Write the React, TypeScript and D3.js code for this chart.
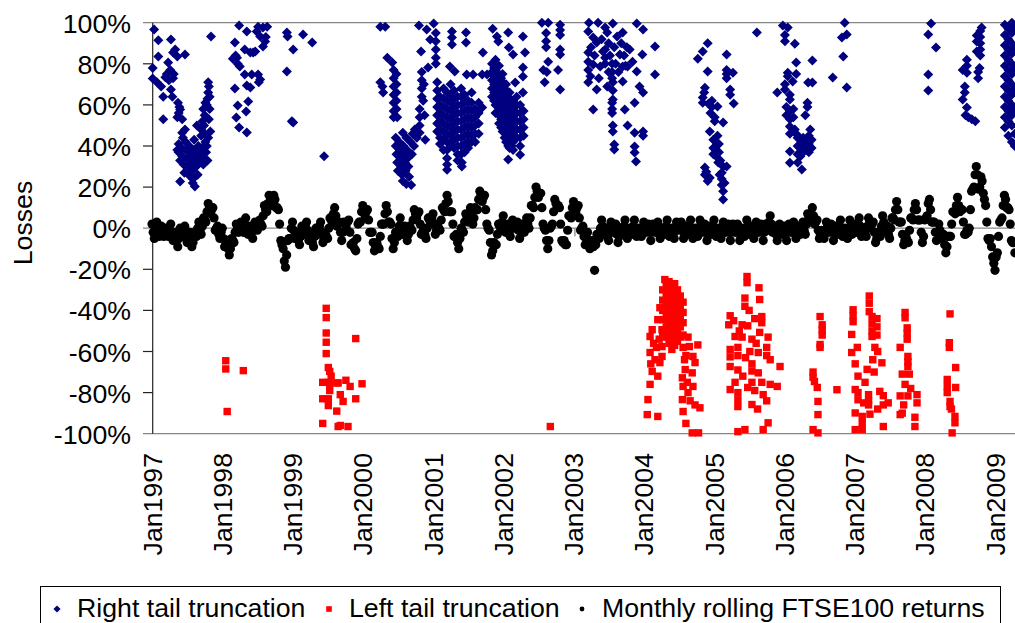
import React from "react";
import * as d3 from "d3";

const W = 1015;
const H = 623;
const FONT = "'Liberation Sans', Arial, Helvetica, sans-serif";

// Axis ticks
const yTickValues = [100, 80, 60, 40, 20, 0, -20, -40, -60, -80, -100];
const yearTicks = [1997, 1998, 1999, 2000, 2001, 2002, 2003, 2004, 2005, 2006, 2007, 2008, 2009];
const zeroLineTickDates = [1999.86, 2003.02, 2006.18];

// Monthly rolling FTSE100 returns (shown as losses, %), 60 samples per year from January
const FTSE_STEPS_PER_YEAR = 60;
const ftse1997 = [2, -2, -5, -1, 3, 0, -4, -2, 1, -1, -4, -2, 0, -2, -4, -1, 2, -2, -6, -4, -2, -6, -9, -5, 0, -2, -4, -1, 1, -3, -7, -4, -2, -6, -9, -7, -2, -3, -4, 0, 3, -1, -3, 1, 5, 4, 3, 8, 12, 10, 7, 9, 10, 5, -1, 0, 1, -3, -5, -2];
const ftse1998 = [0, -5, -9, -8, -6, -10, -13, -10, -5, -6, -7, -2, 2, 0, -2, 1, 3, 0, -2, 2, 5, 1, -3, -1, 1, -2, -5, -1, 3, 1, -1, 2, 4, 2, 1, 6, 11, 9, 8, 12, 16, 13, 11, 14, 16, 14, 10, 10, 9, 2, -6, -8, -10, -16, -19, -13, -6, -5, -5, 0];
const ftse1999 = [3, -1, -5, -4, -2, -6, -8, -4, 1, -1, -3, 1, 3, -1, -6, -5, -3, -7, -9, -4, 0, -1, -3, 1, 3, -2, -7, -5, -3, -4, -5, 0, 5, 4, 3, 7, 10, 6, 1, 2, 3, -2, -6, -2, 3, 2, 0, 3, 4, -2, -8, -8, -7, -10, -11, -5, 2, 3, 3, 8];
const ftse2000 = [11, 9, 6, 8, 9, 4, -2, -2, -2, -7, -11, -9, -7, -9, -10, -4, 2, 2, 2, 7, 11, 8, 3, 3, 2, -5, -10, -7, -2, -3, -4, 1, 5, 1, -3, -1, 1, -3, -6, -3, 1, 0, -1, 4, 9, 7, 5, 7, 8, 2, -3, -2, 0, -3, -5, 0, 5, 4, 2, 5];
const ftse2001 = [7, 2, -3, -1, 2, 0, -1, 4, 10, 9, 8, 12, 16, 13, 8, 8, 8, 2, -4, -4, -3, -7, -10, -5, 0, -1, -2, 3, 7, 5, 3, 7, 10, 6, 2, 5, 10, 9, 9, 14, 18, 16, 13, 15, 16, 9, 2, 0, -1, -7, -13, -11, -7, -8, -8, -3, 2, 1, -1, 3];
const ftse2002 = [6, 2, -2, 0, 2, -2, -4, 0, 4, 2, 0, 2, 3, -1, -5, -2, 2, 0, -2, 2, 5, 2, 0, 5, 11, 11, 10, 15, 20, 18, 15, 17, 17, 10, 2, 0, -1, -6, -10, -6, 0, 1, 2, 8, 14, 12, 10, 11, 10, 2, -6, -7, -6, -8, -8, -1, 6, 6, 5, 10];
const ftse2003 = [13, 11, 8, 10, 11, 5, -1, 0, 1, -4, -8, -5, -2, -6, -10, -8, -6, -9, -20.5, -8, -3, -4, -5, 0, 4, 1, -3, -1, 0, -4, -6, -2, 3, 1, -2, 0, 2, -3, -7, -4, 0, -1, -3, 1, 4, -1, -5, -3, 0, -2, -3, 1, 4, 0, -4, -2, 0, -3, -4, 0];
const ftse2004 = [3, 1, -2, 0, 2, -2, -6, -2, 2, 0, -2, 1, 3, -1, -5, -3, 0, -2, -3, 1, 4, 0, -4, -2, 0, -3, -5, -1, 3, 1, -1, 1, 3, -1, -5, -3, 1, -1, -3, 1, 4, 0, -5, -3, 0, -2, -4, 0, 4, 2, -2, 0, 2, -2, -6, -3, 1, -1, -3, 1];
const ftse2005 = [4, 0, -4, -2, 0, -3, -5, -1, 3, 1, -2, 0, 2, -2, -6, -2, 2, 0, -2, 0, 2, -2, -6, -4, 0, -2, -4, 0, 4, 1, -3, -1, 1, -3, -5, -1, 3, 1, -2, 0, 2, -2, -6, -2, 2, 1, -1, 3, 6, 2, -2, -1, 1, -3, -6, -2, 2, 0, -3, -1];
const ftse2006 = [1, -3, -6, -2, 2, 0, -2, 1, 3, -1, -5, -3, 1, -1, -3, 1, 3, -1, -3, 2, 7, 5, 3, 7, 10, 6, 2, 3, 4, -1, -5, -3, -1, -3, -5, -1, 3, 1, -2, 0, 2, -2, -6, -3, 1, -1, -3, 1, 4, 0, -4, -2, 0, -3, -5, -1, 4, 1, -3, -2];
const ftse2007 = [2, 0, -2, 2, 5, 1, -4, -3, -1, -3, -4, 1, 5, 3, 0, 2, 3, -2, -7, -5, -2, -3, -4, 1, 6, 3, -1, 0, 1, -3, -5, 0, 5, 5, 4, 9, 13, 9, 3, 3, 3, -3, -8, -6, -4, -6, -7, -1, 5, 5, 4, 9, 12, 9, 4, 4, 4, -2, -7, -4];
const ftse2008 = [4, 5, 6, 12, 14, 9, 3, 3, 3, -2, -6, -2, 2, -1, -5, -4, -3, -8, -12, -9, -4, -4, -4, 2, 8, 8, 7, 11, 15, 11, 8, 9, 9, 3, -3, -3, -1, -2, 0, 9, 18, 19, 20, 26, 30, 26, 19, 20, 25, 23, 17, 14, 11, 3, -5, -6, -5, -9, -14, -17];
const ftse2009 = [-20.5, -14, -12, -4, 3, 4, 5, 11, 16, 14, 10, 10, 9, 2, -6, -7, -7, -12];
const ftseByYear = [ftse1997, ftse1998, ftse1999, ftse2000, ftse2001, ftse2002, ftse2003, ftse2004, ftse2005, ftse2006, ftse2007, ftse2008, ftse2009];

// Right tail truncation losses (%): each row is [date, value, value, ...]
const rightTailRows: number[][] = [
  [1997.01, 78, 72.8], [1997.03, 96.7], [1997.07, 71], [1997.09, 91.5, 83.5], [1997.13, 69], [1997.16, 64, 53],
  [1997.19, 73.5], [1997.21, 75], [1997.23, 80.6], [1997.24, 72], [1997.26, 77], [1997.27, 91.8, 67.5], [1997.29, 64],
  [1997.3, 85.5, 73], [1997.31, 75], [1997.33, 87], [1997.36, 83.5, 54, 38], [1997.37, 61], [1997.38, 56, 41, 37],
  [1997.39, 59], [1997.4, 57.8, 33, 22.7], [1997.42, 39], [1997.43, 53, 46.5, 35], [1997.44, 44], [1997.45, 31],
  [1997.46, 27], [1997.47, 84.5, 48], [1997.48, 42, 38], [1997.5, 34], [1997.51, 30], [1997.52, 26], [1997.53, 40],
  [1997.55, 36], [1997.56, 32], [1997.57, 28], [1997.58, 24, 22], [1997.6, 43, 38], [1997.61, 20.3], [1997.62, 34],
  [1997.63, 30], [1997.64, 50], [1997.65, 26], [1997.66, 40], [1997.67, 36], [1997.68, 32], [1997.7, 48, 45],
  [1997.71, 39], [1997.72, 52, 35], [1997.73, 58, 31], [1997.74, 50], [1997.75, 55, 46], [1997.76, 61, 42],
  [1997.77, 37], [1997.78, 60, 40], [1997.79, 63, 33], [1997.8, 71, 66, 44], [1997.81, 69, 53], [1997.82, 64, 58],
  [1997.83, 47], [1997.84, 93.3],
  [1998.15, 82.5], [1998.18, 90.4, 68], [1998.19, 84], [1998.2, 53.9], [1998.21, 83], [1998.22, 80, 59.7],
  [1998.24, 98.6, 49], [1998.25, 78.7], [1998.32, 87, 74.8], [1998.34, 56.8], [1998.35, 95.7, 69.4, 46.6],
  [1998.37, 61.7], [1998.4, 85.5, 68.5], [1998.42, 74.8], [1998.44, 85.5], [1998.47, 86], [1998.49, 95.7],
  [1998.51, 98, 74.8], [1998.52, 71], [1998.54, 93.3, 72.4], [1998.58, 97.7, 88.4], [1998.61, 90.9], [1998.62, 93],
  [1998.64, 98], [1998.92, 95.2, 76.3], [1998.93, 93.3], [1998.99, 52], [1999.01, 87, 51.4], [1999.15, 94.2],
  [1999.28, 90.4], [1999.45, 35],
  [2000.25, 98, 71], [2000.28, 69], [2000.29, 66], [2000.32, 98], [2000.35, 83], [2000.42, 80.6],
  [2000.44, 77, 73, 69, 65, 61, 57, 54], [2000.47, 44, 40], [2000.48, 75, 70, 66, 62, 58, 36], [2000.49, 54, 32],
  [2000.5, 28], [2000.52, 42], [2000.53, 38], [2000.54, 34], [2000.55, 30], [2000.56, 26], [2000.57, 46.5, 23],
  [2000.58, 40], [2000.59, 36], [2000.6, 32], [2000.61, 28], [2000.62, 44, 21.5], [2000.63, 38], [2000.64, 34],
  [2000.65, 30], [2000.66, 25], [2000.68, 42], [2000.69, 21], [2000.7, 36], [2000.71, 46], [2000.73, 40],
  [2000.74, 48], [2000.77, 44], [2000.8, 98.6], [2000.81, 58, 54, 50, 46.5], [2000.83, 86], [2000.84, 76, 72, 68, 64],
  [2000.86, 62], [2000.87, 70], [2000.88, 55], [2000.89, 43], [2000.91, 96.7], [2000.93, 78.2], [2000.96, 91.8],
  [2001.01, 99.6], [2001.04, 95, 91, 87, 83, 80], [2001.06, 71, 67, 63, 59, 55, 51, 47],
  [2001.1, 64, 60, 56, 52, 48, 44, 41], [2001.15, 68, 63, 59, 55, 51, 47, 43, 38],
  [2001.2, 66, 62, 58, 54, 50, 46, 42, 38, 34, 31, 28.5], [2001.24, 78.7], [2001.25, 70, 65, 61, 57, 53, 49, 45, 41],
  [2001.27, 95.7, 92.8, 89.4], [2001.3, 67, 63, 59, 55, 51, 47, 43, 39], [2001.31, 76.3],
  [2001.35, 64, 60, 56, 52, 48, 44, 40, 36, 33], [2001.4, 68, 64, 60, 56, 52, 48, 44, 40, 36], [2001.41, 32, 30],
  [2001.45, 65, 61, 57, 53, 49, 45, 41, 37], [2001.47, 95.2, 90.4], [2001.48, 74.8], [2001.5, 62, 58, 54, 50, 46, 42, 39],
  [2001.55, 66, 61, 57, 53, 49, 45, 42], [2001.57, 74.8], [2001.6, 58, 54, 50, 46, 42], [2001.65, 61, 56, 51, 46],
  [2001.7, 74.8, 58.7], [2001.71, 85.5], [2001.77, 74.8], [2001.84, 80, 76, 72, 68, 64], [2001.85, 97],
  [2001.87, 78, 74, 70, 66, 62], [2001.89, 82, 77, 73, 69, 65, 60, 56], [2001.91, 93.3], [2001.93, 90.9],
  [2001.94, 79, 75, 71, 67, 63, 59, 55, 51], [2001.97, 73, 69, 65, 61, 57, 53, 49],
  [2001.99, 75, 71, 67, 63, 59, 55, 51, 47], [2002.02, 68, 64, 60, 56, 52, 48, 44],
  [2002.04, 70, 66, 62, 58, 54, 50, 46, 42], [2002.07, 95.2, 64, 60, 56, 52, 48, 44, 40, 33.4], [2002.08, 87.9],
  [2002.09, 66, 62, 58, 54, 50, 46, 42, 39], [2002.12, 60, 56, 52, 48, 44, 40], [2002.14, 84.5, 62, 58, 54, 50, 46, 42, 38],
  [2002.17, 70.9], [2002.19, 64, 60, 56, 52, 48, 44], [2002.24, 60, 56, 52, 48, 44, 40, 35.8],
  [2002.28, 93.3, 78.2, 73.8, 66], [2002.29, 57, 53, 49, 45], [2002.31, 85.5],
  [2002.55, 100], [2002.57, 77], [2002.59, 71], [2002.61, 95, 91, 88], [2002.62, 76], [2002.64, 100, 81],
  [2002.78, 77], [2002.81, 99, 96.5, 94, 87, 84.5, 67.5],
  [2003.21, 95.7, 85.5, 81, 77, 71], [2003.22, 100], [2003.24, 74], [2003.25, 88], [2003.28, 92.8, 79.6, 57.8],
  [2003.3, 84], [2003.33, 90.4, 67.5], [2003.35, 100], [2003.36, 73], [2003.38, 78.7], [2003.4, 92], [2003.42, 86],
  [2003.45, 97.7, 87, 83, 80], [2003.48, 95.2, 68.9], [2003.5, 90, 76], [2003.52, 84], [2003.55, 80, 76, 73, 61, 58, 56],
  [2003.56, 99.6, 71, 67, 62.6, 50, 47], [2003.58, 88, 40.7, 38.3], [2003.6, 80], [2003.62, 93.3], [2003.64, 76],
  [2003.66, 84.5], [2003.68, 90], [2003.7, 95.2, 78.7, 71.4], [2003.72, 84], [2003.73, 57.8], [2003.74, 79],
  [2003.76, 88], [2003.77, 78.7, 50], [2003.8, 87], [2003.84, 81], [2003.87, 61, 46.5, 39.8, 36.8], [2003.89, 32.5],
  [2003.9, 99.6, 76.3], [2003.94, 69], [2003.98, 84.5], [2003.99, 96.7, 66, 47, 45], [2004.16, 88.4, 74.8],
  [2004.77, 82.5], [2004.84, 86, 63.6, 61], [2004.86, 66], [2004.87, 68.4, 29.5, 26], [2004.89, 27.5],
  [2004.91, 90, 76.3, 23], [2004.92, 60.5], [2004.94, 47, 24.5], [2004.95, 56], [2004.97, 62, 59],
  [2004.99, 43, 39, 36], [2005.01, 54, 52], [2005.03, 42, 38, 35], [2005.05, 59.2, 45], [2005.06, 32],
  [2005.07, 41, 37], [2005.08, 26], [2005.09, 33], [2005.11, 27, 24, 21], [2005.13, 51.4, 30, 18, 14], [2005.15, 22],
  [2005.18, 84.5, 77, 75, 73, 30], [2005.23, 67.5, 65], [2005.27, 75.7], [2005.28, 60.7], [2005.61, 95.2],
  [2005.9, 66], [2005.98, 98.6], [2006.01, 94, 91, 70, 67.5], [2006.03, 59, 55], [2006.05, 97.7, 75.7, 74],
  [2006.08, 65, 62.6, 57, 53, 49.5, 46, 37.3, 31.9], [2006.12, 71.4], [2006.13, 58, 54], [2006.15, 89.8, 48],
  [2006.17, 80.6, 75], [2006.18, 45.6], [2006.19, 44, 40, 36, 32], [2006.23, 43, 39, 35], [2006.25, 28.6],
  [2006.27, 44, 40, 37], [2006.3, 55], [2006.31, 42, 38], [2006.33, 61, 59], [2006.34, 70.9], [2006.35, 45, 41, 37],
  [2006.37, 48], [2006.39, 43, 39], [2006.4, 81.6, 70.9],
  [2006.69, 73.3], [2006.82, 92.8], [2006.84, 83.5], [2006.86, 100], [2006.89, 94.2, 68.5],
  [2008.05, 94.2, 74.8, 67], [2008.09, 99.6], [2008.16, 87.9],
  [2008.54, 77, 62.6], [2008.57, 69, 66], [2008.58, 55], [2008.6, 82, 79, 75.7, 58.7], [2008.62, 54], [2008.67, 53],
  [2008.72, 52], [2008.74, 93.8, 90.9, 86], [2008.76, 76, 73], [2008.78, 78], [2008.79, 96, 93, 90, 87, 84],
  [2008.81, 97.7],
  [2009.14, 99, 94, 89, 84, 79, 74, 69, 64, 59, 54, 49], [2009.19, 97, 92, 87, 82, 77, 72, 67, 62, 57, 52, 45],
  [2009.24, 100, 95, 90, 85, 80, 75, 70, 65, 60, 55, 50, 42], [2009.28, 98, 88, 78, 68, 58, 46, 40],
];

// Left tail truncation losses (%): each row is [date, value, value, ...]
const leftTailRows: number[][] = [
  [1998.05, -64.5, -68.5], [1998.07, -89.2], [1998.3, -69.3],
  [1999.43, -75, -83, -95], [1999.48, -39, -43.5, -51, -55.5, -61], [1999.51, -67.8, -75, -83, -86.3],
  [1999.53, -69.7, -75.5, -79], [1999.55, -72], [1999.63, -75.3, -89], [1999.65, -75.3, -96.5], [1999.68, -81, -96],
  [1999.72, -84.3], [1999.76, -74], [1999.79, -96.5], [1999.82, -77], [1999.9, -53.7, -83], [1999.99, -75.7],
  [2002.67, -96.5],
  [2004.05, -90.7], [2004.06, -83.4], [2004.09, -52.7, -60.5, -76], [2004.1, -66], [2004.12, -49.4, -69.7],
  [2004.14, -56], [2004.16, -64], [2004.18, -58], [2004.2, -44.5, -72, -91.6], [2004.22, -54], [2004.23, -38.7, -65.4],
  [2004.26, -49.4, -57.6, -62.4], [2004.27, -30, -35, -40, -44.5, -51], [2004.3, -25],
  [2004.32, -28, -33, -38, -43, -48, -53], [2004.36, -26, -31, -36, -41, -46, -51, -56],
  [2004.4, -29, -34, -39, -44, -49, -54, -59], [2004.44, -27, -32, -37, -42, -47, -52, -57],
  [2004.48, -30, -35, -40, -45, -50, -55], [2004.52, -33, -38, -43, -48, -53], [2004.55, -72.8, -83.4],
  [2004.56, -36, -41, -46, -52, -58, -77, -89.2], [2004.58, -64], [2004.59, -68.8], [2004.6, -62, -95],
  [2004.62, -75], [2004.63, -53, -80], [2004.65, -57.6], [2004.66, -84], [2004.69, -70.4, -99.6],
  [2004.7, -62.4, -77], [2004.73, -65.4, -86], [2004.77, -56.8], [2004.78, -99.6], [2004.8, -87.4],
  [2005.21, -47], [2005.23, -42.6, -59, -62.6, -67.3, -78.5], [2005.28, -45], [2005.3, -52.7, -75],
  [2005.34, -58, -62, -69, -80, -83.5, -86.8, -99], [2005.36, -50], [2005.4, -47, -53], [2005.41, -72],
  [2005.44, -34, -38, -98], [2005.45, -63], [2005.47, -23.5, -26.5], [2005.48, -47.5, -77.5], [2005.5, -40],
  [2005.51, -60], [2005.54, -54, -66, -69.5, -75, -85.8], [2005.58, -44, -79], [2005.6, -56], [2005.62, -88],
  [2005.63, -60.5, -70.4], [2005.64, -29], [2005.65, -34.7, -50.7], [2005.68, -43, -46, -75], [2005.7, -81, -98],
  [2005.75, -58, -62, -84], [2005.77, -53, -94.7], [2005.8, -64, -76], [2005.9, -77], [2005.94, -67.3],
  [2006.41, -70, -72.5, -98], [2006.43, -74.6], [2006.47, -77.5], [2006.48, -84.3, -90.7, -99.6],
  [2006.51, -43, -56.6, -58], [2006.54, -47, -49.5, -52], [2006.75, -78.6],
  [2006.96, -51.7, -60.5], [2006.98, -39.7, -42.5, -45.5], [2007.01, -66, -78.5, -89.9, -98], [2007.04, -58],
  [2007.05, -72, -80, -83.5], [2007.11, -91.6, -95, -98], [2007.13, -85], [2007.15, -75], [2007.18, -68.7],
  [2007.2, -81, -84, -86], [2007.21, -33, -36.5, -40.6], [2007.22, -90.5], [2007.25, -43, -46.5, -50, -52.7],
  [2007.26, -64], [2007.28, -70], [2007.29, -58], [2007.32, -44, -48, -52], [2007.33, -60, -88], [2007.36, -79.4],
  [2007.39, -65.5], [2007.41, -81.5, -86, -96.5], [2007.48, -85],
  [2007.65, -58, -81.6, -90.7], [2007.68, -71, -90], [2007.7, -86], [2007.72, -41, -43.6, -76],
  [2007.75, -48.5, -51, -54], [2007.76, -62.4, -65, -67.3, -81.6], [2007.78, -71], [2007.8, -78],
  [2007.86, -92, -96.5], [2007.89, -81, -85],
  [2008.32, -73.6, -77, -80], [2008.35, -55.7, -58], [2008.36, -41.7, -84.3, -86.8], [2008.38, -88],
  [2008.39, -99.6], [2008.43, -91.6, -94.7], [2008.44, -67.8, -77.5],
];

const legendItems = [
  { label: "Right tail truncation", marker: "diamond", color: "#000080", markerX: 57, textX: 77 },
  { label: "Left tail truncation", marker: "square", color: "#FF0000", markerX: 329, textX: 349 },
  { label: "Monthly rolling FTSE100 returns", marker: "circle", color: "#000000", markerX: 582, textX: 602 },
];

const expandRows = (rows: number[][]) =>
  rows.flatMap(([t, ...vals]) => vals.map((v) => [t, v] as [number, number]));

const rightTail = expandRows(rightTailRows);
const leftTail = expandRows(leftTailRows);
const ftsePoints: [number, number][] = ftseByYear.flatMap((vals, k) =>
  vals.map((v, i) => [1997 + k + i / FTSE_STEPS_PER_YEAR, v] as [number, number])
);

const x = d3.scaleLinear().domain([1997, 2009]).range([152, 995]);
const y = d3.scaleLinear().domain([-100, 100]).range([433.7, 22.7]);

const AXIS_X = 152.7;
const PLOT_RIGHT = 1030;
const FS = 26.7;

const diamondPath = (s: number) => `M0,${-s}L${s},0L0,${s}L${-s},0Z`;

export default function App() {
  const gridGray = "#868686";
  return (
    <svg
      width={W}
      height={H}
      viewBox={`0 0 ${W} ${H}`}
      style={{ position: "absolute", left: 0, top: 0, background: "#ffffff" }}
      fontFamily={FONT}
    >
      <rect x={0} y={0} width={W} height={H} fill="#ffffff" />

      {/* plot frame and zero axis */}
      <line x1={143} x2={PLOT_RIGHT} y1={y(100)} y2={y(100)} stroke={gridGray} strokeWidth={1.3} />
      <line x1={143} x2={PLOT_RIGHT} y1={y(-100)} y2={y(-100)} stroke={gridGray} strokeWidth={1.3} />
      <line x1={143} x2={PLOT_RIGHT} y1={y(0)} y2={y(0)} stroke={gridGray} strokeWidth={1.3} />
      {zeroLineTickDates.map((d) => (
        <line key={d} x1={x(d)} x2={x(d)} y1={y(0)} y2={y(0) + 8} stroke={gridGray} strokeWidth={1.3} />
      ))}

      {/* y axis */}
      <line x1={AXIS_X} x2={AXIS_X} y1={y(100)} y2={y(-100)} stroke="#222" strokeWidth={1.2} />
      {yTickValues.map((v) => (
        <g key={v}>
          {v !== 0 && v !== 100 && v !== -100 && (
            <line x1={143} x2={AXIS_X} y1={y(v)} y2={y(v)} stroke="#222" strokeWidth={1.2} />
          )}
          <text x={131} y={y(v) + 10} textAnchor="end" fontSize={FS} fill="#000">
            {`${v}%`}
          </text>
        </g>
      ))}
      <text transform="translate(22.4,223) rotate(-90)" textAnchor="middle" dy="0.35em" fontSize={FS} fill="#000">
        Losses
      </text>

      {/* x labels */}
      {yearTicks.map((yr) => (
        <text
          key={yr}
          transform={`translate(${x(yr)},453) rotate(-90)`}
          textAnchor="end"
          dy="0.36em"
          fontSize={FS}
          fill="#000"
        >
          {`Jan${yr}`}
        </text>
      ))}

      {/* series */}
      <g fill="#000080">
        {rightTail.map(([t, v], i) => (
          <path key={i} d={diamondPath(5)} transform={`translate(${x(t)},${y(v)})`} />
        ))}
      </g>
      <g fill="#FF0000">
        {leftTail.map(([t, v], i) => (
          <rect key={i} x={x(t) - 3.7} y={y(v) - 3.7} width={7.4} height={7.4} />
        ))}
      </g>
      <g fill="#000000">
        {ftsePoints.map(([t, v], i) => (
          <circle key={i} cx={x(t)} cy={y(v)} r={4.6} />
        ))}
      </g>

      {/* legend */}
      <rect x={40.5} y={586.5} width={960} height={60} fill="none" stroke="#000" strokeWidth={1} />
      {legendItems.map((item) => {
        const my = 609;
        const mx = item.markerX;
        return (
          <g key={item.label}>
            {item.marker === "diamond" && (
              <path d={diamondPath(3.6)} transform={`translate(${mx},${my})`} fill={item.color} />
            )}
            {item.marker === "square" && (
              <rect x={mx - 2.8} y={my - 2.8} width={5.6} height={5.6} fill={item.color} />
            )}
            {item.marker === "circle" && <circle cx={mx} cy={my} r={2.4} fill={item.color} />}
            <text x={item.textX} y={617} fontSize={FS} fill="#000">
              {item.label}
            </text>
          </g>
        );
      })}
    </svg>
  );
}
